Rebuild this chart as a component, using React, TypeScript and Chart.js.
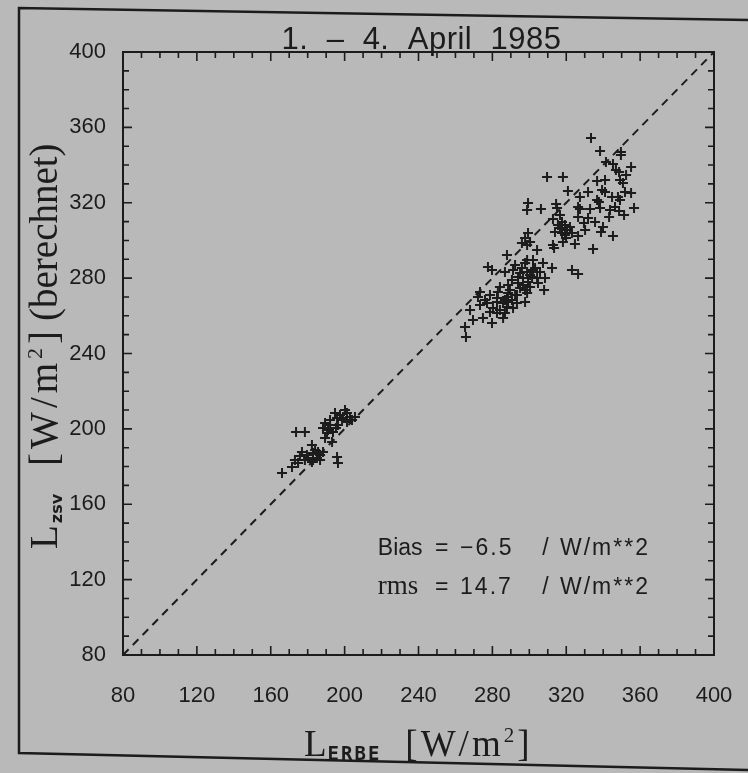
import React, { useEffect, useRef } from 'react';
import { Chart, registerables } from 'chart.js';

Chart.register(...registerables);

// ---------- data ----------
const TITLE = '1.  –  4.  April  1985';
const AXIS_MIN = 80;
const AXIS_MAX = 400;
const MAJOR_STEP = 40;
const MINOR_STEP = 10;

// L_ERBE (observed) values, W/m^2
const L_ERBE = [
  333.4, 338.3, 349.6, 349.6, 341.5, 345.3, 346.9, 348.6, 355.1, 309.6,
  318.2, 336.7, 349.1, 350.7, 320.9, 327.4, 331.8, 339.4, 341.0, 351.8,
  355.1, 344.8, 348.0, 336.7, 337.7, 299.3, 298.8, 306.3, 314.5, 315.0,
  326.4, 327.4, 332.9, 338.3, 346.4, 348.6, 351.3, 312.8, 326.4, 331.8,
  343.2, 317.7, 319.3, 316.6, 320.4, 322.0, 329.6, 339.9, 338.8, 317.7,
  319.3, 326.4, 324.7, 345.3, 318.2, 312.8, 313.4, 334.5, 299.3, 297.7,
  296.0, 298.8, 300.4, 304.2, 287.9, 298.8, 302.0, 307.4, 312.3, 323.1,
  326.4, 277.6, 279.8, 286.8, 291.2, 295.0, 298.8, 302.0, 301.5, 296.6,
  304.2, 299.3, 296.6, 290.6, 293.9, 288.5, 284.1, 289.5, 295.0, 298.8,
  304.7, 308.0, 273.3, 272.2, 278.7, 282.5, 287.9, 293.3, 277.1, 282.5,
  285.8, 288.5, 293.3, 297.7, 280.3, 284.1, 287.9, 291.2, 282.5, 286.8,
  269.5, 274.9, 279.8, 265.2, 265.7,
  292.3, 296.0, 300.4, 303.1, 297.7, 292.3, 286.8, 290.6, 300.4, 305.8,
  293.9, 288.5, 283.0, 276.0, 273.3, 278.7, 285.8, 267.9, 308.5, 297.7,
  315.5, 319.9, 323.1, 313.9, 316.6, 330.2, 335.6, 343.7, 349.1, 341.0,
  352.4, 356.7,
  194.8, 197.5, 201.3, 202.9, 205.6, 195.9, 198.6, 201.3, 189.4, 192.1,
  188.3, 191.0, 193.7, 190.5, 196.4, 173.7, 178.5, 189.4, 193.2, 182.3,
  176.9, 179.6, 182.9, 185.6, 188.3, 180.2, 182.9, 185.0, 186.7, 182.3,
  178.5, 173.1, 174.8, 195.9, 196.4, 171.5, 166.1,
  200.2, 204.0, 192.1, 186.7, 184.0, 175.8, 195.3, 199.1,
];

// L_zsv (computed) values, W/m^2
const L_ZSV = [
  354.4, 347.5, 346.9, 345.3, 341.6, 340.6, 337.4, 336.3, 339.0, 333.7,
  333.7, 331.5, 332.1, 330.5, 326.2, 323.1, 325.7, 326.8, 325.7, 325.7,
  325.2, 323.1, 323.1, 321.5, 320.4, 319.9, 316.2, 316.7, 319.3, 317.2,
  317.7, 316.7, 316.7, 317.2, 317.7, 315.6, 313.5, 311.4, 312.4, 311.9,
  312.4, 309.8, 308.2, 306.6, 305.5, 307.1, 309.3, 307.1, 304.5, 303.9,
  302.9, 302.4, 298.1, 302.4, 299.2, 297.6, 296.0, 295.5, 303.9, 301.3,
  298.6, 297.6, 299.2, 294.9, 292.3, 289.6, 289.6, 288.0, 285.4, 284.3,
  282.2, 285.9, 284.3, 283.3, 284.3, 282.7, 283.3, 284.3, 280.6, 280.1,
  280.1, 277.9, 276.4, 279.0, 277.4, 276.4, 275.3, 273.7, 274.8, 272.1,
  277.4, 273.7, 272.6, 270.0, 271.0, 269.5, 270.0, 271.0, 266.8, 267.3,
  266.8, 267.3, 266.8, 267.3, 264.1, 263.1, 264.7, 264.1, 261.5, 261.5,
  257.8, 258.8, 256.2, 254.1, 248.8,
  287.0, 285.4, 281.7, 285.4, 273.7, 271.0, 268.4, 268.4, 275.3, 283.3,
  280.6, 272.1, 272.6, 268.4, 265.7, 262.0, 258.8, 263.1, 280.1, 288.0,
  308.2, 301.3, 303.9, 304.5, 313.5, 305.5, 309.8, 316.2, 321.5, 332.1,
  334.7, 317.2,
  208.4, 207.4, 208.4, 206.3, 206.3, 205.8, 204.7, 203.6, 203.1, 202.1,
  200.5, 199.4, 198.3, 197.8, 202.1, 198.3, 198.3, 195.2, 193.0, 191.4,
  187.7, 186.1, 187.2, 187.7, 187.7, 184.5, 183.5, 184.5, 183.5, 182.4,
  183.5, 183.5, 181.9, 185.1, 181.9, 179.8, 176.6,
  210.0, 204.7, 204.7, 186.1, 188.8, 185.6, 200.5, 205.8,
];

// statistics annotation
const BIAS_TEXT = ['Bias', '=', '−6.5', '/', 'W/m**2'];
const RMS_TEXT = ['rms', '=', '14.7', '/', 'W/m**2'];

// ---------- styling ----------
const INK = '#1c1c1c';
const PAPER = '#b9b9b9';
const SANS = '"Liberation Sans", Arial, sans-serif';
const SERIF = '"Liberation Serif", "Times New Roman", serif';
const ANNOT_X = [218, 249, 262.5, 307, 316.6];
const ANNOT_Y = [133, 112.2];

type Seg = { text: string; font: string; dy?: number; gap?: number; ls?: number };

function drawRun(ctx: CanvasRenderingContext2D, segs: Seg[], x: number, y: number) {
  let cx = x;
  for (const s of segs) {
    ctx.font = s.font;
    (ctx as any).letterSpacing = (s.ls || 0) + 'px';
    ctx.fillText(s.text, cx, y + (s.dy || 0));
    cx += ctx.measureText(s.text).width + (s.gap || 0);
  }
  (ctx as any).letterSpacing = '0px';
}

const decorPlugin = {
  id: 'decor',
  beforeDraw(chart: any) {
    const ctx = chart.ctx as CanvasRenderingContext2D;
    ctx.save();
    ctx.fillStyle = PAPER;
    ctx.fillRect(0, 0, chart.width, chart.height);
    ctx.restore();
  },
  afterDraw(chart: any) {
    const ctx = chart.ctx as CanvasRenderingContext2D;
    const { left, right, top, bottom } = chart.chartArea;
    const xs = chart.scales.x;
    const ys = chart.scales.y;
    ctx.save();
    ctx.strokeStyle = INK;
    ctx.fillStyle = INK;

    // outer figure frame
    ctx.lineWidth = 2.5;
    ctx.beginPath();
    ctx.moveTo(chart.width, 20);
    ctx.lineTo(19, 8);
    ctx.lineTo(19, 753);
    ctx.lineTo(chart.width, 770);
    ctx.stroke();

    // plot box
    ctx.lineWidth = 2;
    ctx.strokeRect(left, top, right - left, bottom - top);

    // inward ticks on all four sides
    ctx.lineWidth = 1.6;
    ctx.beginPath();
    for (let v = AXIS_MIN + MINOR_STEP; v < AXIS_MAX; v += MINOR_STEP) {
      const len = v % MAJOR_STEP === 0 ? 9 : 6;
      const px = xs.getPixelForValue(v);
      const py = ys.getPixelForValue(v);
      ctx.moveTo(px, bottom); ctx.lineTo(px, bottom - len);
      ctx.moveTo(px, top); ctx.lineTo(px, top + len);
      ctx.moveTo(left, py); ctx.lineTo(left + len, py);
      ctx.moveTo(right, py); ctx.lineTo(right - len, py);
    }
    ctx.stroke();

    // title
    ctx.textBaseline = 'alphabetic';
    ctx.textAlign = 'center';
    ctx.font = `31px ${SANS}`;
    (ctx as any).letterSpacing = '0.5px';
    ctx.fillText(TITLE, (left + right) / 2 + 3, 49);
    (ctx as any).letterSpacing = '0px';
    ctx.textAlign = 'left';

    // x axis title
    drawRun(ctx, [
      { text: 'L', font: `37px ${SERIF}`, gap: 1 },
      { text: 'ERBE', font: `bold 19px "DejaVu Sans Mono", monospace`, dy: 4, gap: 24, ls: 2 },
      { text: '[W/m', font: `37px ${SERIF}`, ls: 3 },
      { text: '2', font: `21px ${SERIF}`, dy: -14, ls: 3 },
      { text: ']', font: `37px ${SERIF}` },
    ], 304, 756);

    // y axis title (rotated)
    ctx.save();
    ctx.translate(57, 549);
    ctx.rotate(-Math.PI / 2);
    drawRun(ctx, [
      { text: 'L', font: `39px ${SERIF}`, gap: 2 },
      { text: 'zsv', font: `bold 16px "DejaVu Sans", sans-serif`, dy: 5, gap: 28 },
      { text: '[W/m', font: `39px ${SERIF}`, ls: 4 },
      { text: '2', font: `22px ${SERIF}`, dy: -15, ls: 4 },
      { text: ']', font: `39px ${SERIF}`, gap: 10 },
      { text: '(berechnet)', font: `39px ${SERIF}` },
    ], 0, 0);
    ctx.restore();

    // statistics annotation
    const lines = [BIAS_TEXT, RMS_TEXT];
    lines.forEach((parts, li) => {
      const y = ys.getPixelForValue(ANNOT_Y[li]);
      parts.forEach((t, i) => {
        const serif = li === 1 && i === 0;
        ctx.font = serif ? `27px ${SERIF}` : `23px ${SANS}`;
        (ctx as any).letterSpacing = i >= 2 ? '2px' : '0px';
        ctx.fillText(t, xs.getPixelForValue(ANNOT_X[i]), y);
      });
    });
    (ctx as any).letterSpacing = '0px';
    ctx.restore();
  },
};

export default function App() {
  const ref = useRef<HTMLCanvasElement | null>(null);

  useEffect(() => {
    document.body.style.margin = '0';
    document.body.style.background = PAPER;
    const canvas = ref.current;
    if (!canvas) return;
    const points = L_ERBE.map((x, i) => ({ x, y: L_ZSV[i] }));
    const chart = new Chart(canvas, {
      type: 'scatter',
      data: {
        datasets: [
          {
            type: 'line',
            data: [
              { x: AXIS_MIN, y: AXIS_MIN },
              { x: AXIS_MAX, y: AXIS_MAX },
            ],
            borderColor: INK,
            borderWidth: 2,
            borderDash: [8, 6],
            pointRadius: 0,
            fill: false,
          } as any,
          {
            data: points,
            pointStyle: 'cross',
            pointRadius: 5,
            borderWidth: 2,
            borderColor: INK,
            backgroundColor: INK,
          } as any,
        ],
      },
      options: {
        responsive: false,
        animation: false,
        layout: { padding: { top: 52, right: 34, left: 0, bottom: 0 } },
        plugins: {
          legend: { display: false },
          tooltip: { enabled: false },
          title: { display: false },
        },
        scales: {
          x: {
            type: 'linear',
            min: AXIS_MIN,
            max: AXIS_MAX,
            grid: { display: false, drawTicks: false },
            border: { display: false },
            ticks: {
              stepSize: MAJOR_STEP,
              padding: 28,
              maxRotation: 0,
              color: INK,
              font: { family: SANS, size: 22 },
            },
            afterFit: (s: any) => {
              s.height = 118;
              s.paddingLeft = 0;
              s.paddingRight = 0;
            },
          },
          y: {
            type: 'linear',
            min: AXIS_MIN,
            max: AXIS_MAX,
            grid: { display: false, drawTicks: false },
            border: { display: false },
            ticks: {
              stepSize: MAJOR_STEP,
              padding: 17,
              color: INK,
              font: { family: SANS, size: 22 },
            },
            afterFit: (s: any) => {
              s.width = 123;
              s.paddingTop = 0;
              s.paddingBottom = 0;
            },
          },
        },
      } as any,
      plugins: [decorPlugin],
    });
    return () => chart.destroy();
  }, []);

  return (
    <canvas
      ref={ref}
      width={748}
      height={773}
      style={{ display: 'block', width: 748, height: 773 }}
    />
  );
}
